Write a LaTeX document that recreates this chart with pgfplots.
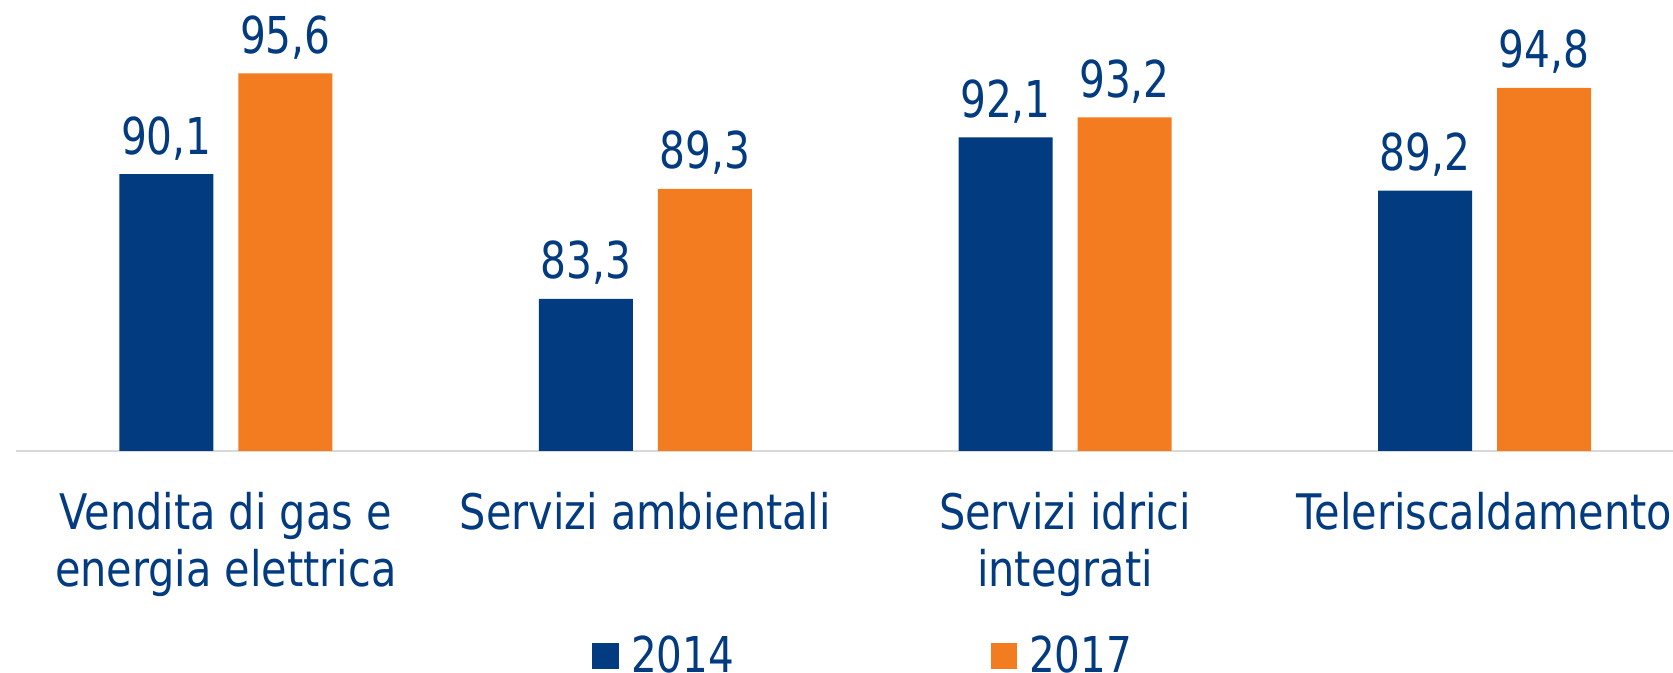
\documentclass[border=0pt]{standalone}
\usepackage{pgfplots}
\pgfplotsset{compat=1.18}
\usepackage{fontspec}
\setmainfont{DejaVu Sans Condensed}
\newfontfamily\labfont[FakeStretch=0.94]{DejaVu Sans Condensed}
\newfontfamily\numfont[FakeStretch=0.89]{DejaVu Sans Condensed}
\newfontfamily\legfont[FakeStretch=0.91]{DejaVu Sans Condensed}
\definecolor{cblue}{HTML}{023B80}
\definecolor{corange}{HTML}{F47C20}
\definecolor{caxis}{HTML}{D9D9D9}
\begin{document}
\begin{tikzpicture}
\begin{axis}[
  name=ax,
  scale only axis,
  width=828.5pt, height=225.5pt,
  xmin=-0.5, xmax=3.449, ymin=75, ymax=99.6,
  clip=false,
  axis x line*=bottom, axis y line=none,
  x axis line style={draw=caxis, line width=0.8pt, -},
  ybar=12.5pt, bar width=47pt,
  xtick={0,1,2,3},
  xticklabels={{Vendita di gas e\\energia elettrica},{Servizi ambientali},{Servizi idrici\\integrati},{Teleriscaldamento}},
  major tick length=0pt,
  xticklabel style={inner sep=0pt, anchor=north, yshift=-20.5pt, align=center, text=cblue, font=\labfont\fontsize{24.5}{28.5}\selectfont},
  nodes near coords,
  /pgf/number format/.cd, fixed, fixed zerofill, precision=1, use comma, assume math mode=true,
  /pgfplots/.cd,
  nodes near coords style={anchor=base, yshift=10pt, inner sep=0pt, text=cblue, font=\numfont\fontsize{25.4}{28}\selectfont},
  legend columns=2,
  legend style={draw=none, fill=none, at={(0.3440,-0.4545)}, anchor=west, font=\legfont\fontsize{24.7}{28}\selectfont, text=cblue,
    /tikz/every odd column/.append style={column sep=4pt},
    /tikz/every even column/.append style={column sep=126.35pt}},
  legend image code/.code={\fill[#1] (0pt,-6.65pt) rectangle (13.3pt,6.65pt);},
]
\addplot[fill=cblue, draw=none] coordinates {(0,90.1) (1,83.3) (2,92.1) (3,89.2)};
\addplot[fill=corange, draw=none] coordinates {(0,95.6) (1,89.3) (2,93.2) (3,94.8)};
\legend{2014,2017}
\end{axis}
\pgfresetboundingbox
\path[use as bounding box] (ax.south west) ++(-8pt,-111pt) rectangle (ax.north east);
\end{tikzpicture}
\end{document}
